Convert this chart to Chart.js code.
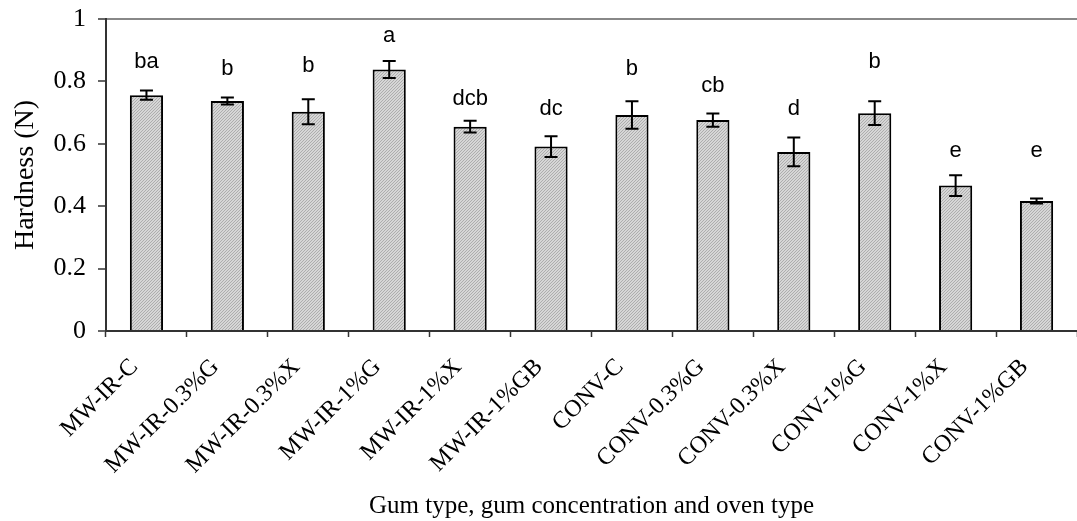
<!DOCTYPE html>
<html>
<head>
<meta charset="utf-8">
<script src="https://cdn.jsdelivr.net/npm/chart.js@4/dist/chart.umd.min.js"></script>
<style>
  html, body { margin: 0; padding: 0; background: #fff; }
  #wrap { width: 1077px; height: 521px; }
</style>
</head>
<body>
<div id="wrap"><canvas id="hardness"></canvas></div>
<script>
const categories = ["MW-IR-C", "MW-IR-0.3%G", "MW-IR-0.3%X", "MW-IR-1%G", "MW-IR-1%X", "MW-IR-1%GB",
  "CONV-C", "CONV-0.3%G", "CONV-0.3%X", "CONV-1%G", "CONV-1%X", "CONV-1%GB"];
const hardness = [0.756, 0.737, 0.703, 0.838, 0.655, 0.591, 0.692, 0.676, 0.574, 0.698, 0.466, 0.417];
const errors = [0.015, 0.011, 0.040, 0.027, 0.019, 0.033, 0.044, 0.021, 0.046, 0.038, 0.033, 0.008];
const letters = ["ba", "b", "b", "a", "dcb", "dc", "b", "cb", "d", "b", "e", "e"];
// height of each letter group, in Hardness units
const letterLevel = [0.862, 0.840, 0.849, 0.946, 0.744, 0.712, 0.840, 0.785, 0.712, 0.862, 0.577, 0.577];
const yTicks = [0, 0.2, 0.4, 0.6, 0.8, 1];

function hatch() {
  const c = document.createElement("canvas");
  c.width = 3;
  c.height = 3;
  const g = c.getContext("2d");
  g.fillStyle = "#d6d6d6";
  g.fillRect(0, 0, 3, 3);
  g.fillStyle = "#adadad";
  for (let i = 0; i < 3; i++) {
    g.fillRect(i, 2 - i, 1, 1);
  }
  return g.createPattern(c, "repeat");
}

// error bars and significance letters
const extras = {
  id: "extras",
  afterDatasetsDraw(chart) {
    const ctx = chart.ctx;
    const y = chart.scales.y;
    const meta = chart.getDatasetMeta(0);
    ctx.save();
    ctx.strokeStyle = "#000";
    ctx.lineWidth = 2;
    meta.data.forEach((bar, i) => {
      const top = y.getPixelForValue(hardness[i] + errors[i]);
      const bottom = y.getPixelForValue(hardness[i] - errors[i]);
      ctx.beginPath();
      ctx.moveTo(bar.x, top);
      ctx.lineTo(bar.x, bottom);
      ctx.moveTo(bar.x - 6.5, top);
      ctx.lineTo(bar.x + 6.5, top);
      ctx.moveTo(bar.x - 6.5, bottom);
      ctx.lineTo(bar.x + 6.5, bottom);
      ctx.stroke();
    });
    ctx.fillStyle = "#000";
    ctx.font = "22px 'Liberation Sans', Arial, sans-serif";
    ctx.textAlign = "center";
    ctx.textBaseline = "middle";
    meta.data.forEach((bar, i) => {
      ctx.fillText(letters[i], bar.x, y.getPixelForValue(letterLevel[i]));
    });
    ctx.restore();
  }
};

new Chart(document.querySelector("#hardness"), {
  type: "bar",
  data: {
    labels: categories,
    datasets: [{
      data: hardness,
      backgroundColor: hatch(),
      borderColor: "#000",
      borderWidth: 2,
      categoryPercentage: 1,
      barPercentage: 0.41
    }]
  },
  options: {
    responsive: true,
    maintainAspectRatio: false,
    animation: false,
    layout: { padding: { top: 19, right: 0, left: 0, bottom: 0 } },
    plugins: {
      legend: { display: false },
      tooltip: { enabled: false }
    },
    scales: {
      x: {
        afterFit: s => {
          s.height = 190;
          s.paddingLeft = 0;
          s.paddingRight = 0;
        },
        grid: {
          drawOnChartArea: false,
          tickLength: 6,
          tickColor: "#333",
          tickWidth: 1.5
        },
        border: { color: "#333", width: 2 },
        ticks: {
          autoSkip: false,
          minRotation: 45,
          maxRotation: 45,
          padding: 16,
          labelOffset: -12,
          color: "#000",
          font: { family: "'Liberation Serif', 'Times New Roman', serif", size: 24 }
        },
        title: {
          display: true,
          text: "Gum type, gum concentration and oven type",
          color: "#000",
          padding: { top: 0, bottom: 0 },
          font: { family: "'Liberation Serif', 'Times New Roman', serif", size: 25 }
        }
      },
      y: {
        min: 0,
        max: 1,
        afterFit: s => {
          s.width = 106;
          s.paddingTop = 0;
          s.paddingBottom = 0;
        },
        afterBuildTicks: s => { s.ticks = yTicks.map(v => ({ value: v })); },
        grid: {
          color: c => (c.tick && c.tick.value === 1 ? "#888" : "rgba(0,0,0,0)"),
          lineWidth: 2,
          tickColor: "#333",
          tickLength: 8,
          tickWidth: 1.5
        },
        border: { color: "#333", width: 2 },
        ticks: {
          padding: 12,
          color: "#000",
          callback: v => String(v),
          font: { family: "'Liberation Serif', 'Times New Roman', serif", size: 26 }
        },
        title: {
          display: true,
          text: "Hardness (N)",
          color: "#000",
          padding: { top: 9, bottom: 0 },
          font: { family: "'Liberation Serif', 'Times New Roman', serif", size: 28 }
        }
      }
    }
  },
  plugins: [extras]
});
</script>
</body>
</html>
